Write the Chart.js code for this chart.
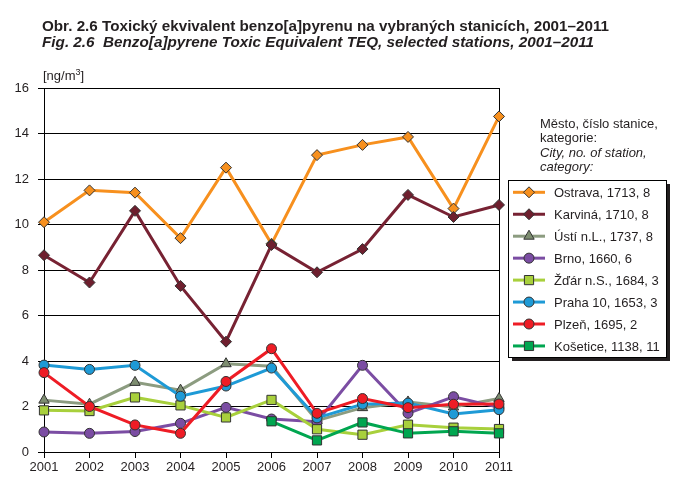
<!DOCTYPE html>
<html>
<head>
<meta charset="utf-8">
<script src="https://cdn.jsdelivr.net/npm/chart.js@4"></script>
<style>
  html, body { margin: 0; padding: 0; background: #fff; }
  #wrap { width: 677px; height: 500px; position: relative; }
</style>
</head>
<body>
<div id="wrap"><canvas id="c" width="677" height="500"></canvas></div>
<script>
// ---- data ----
const years = ["2001","2002","2003","2004","2005","2006","2007","2008","2009","2010","2011"];
const yTicks = [0, 2, 4, 6, 8, 10, 12, 14, 16];
const seriesNames = ["Ostrava, 1713, 8","Karviná, 1710, 8","Ústí n.L., 1737, 8","Brno, 1660, 6","Žďár n.S., 1684, 3","Praha 10, 1653, 3","Plzeň, 1695, 2","Košetice, 1138, 11"];
const ostrava  = [10.1, 11.5, 11.4, 9.4, 12.5, 9.15, 13.05, 13.5, 13.85, 10.7, 14.75];
const karvina  = [8.65, 7.45, 10.6, 7.3, 4.85, 9.1, 7.9, 8.92, 11.3, 10.33, 10.86];
const usti     = [2.28, 2.1, 3.06, 2.72, 3.88, 3.77, 1.38, 1.95, 2.2, 1.98, 2.35];
const brno     = [0.88, 0.82, 0.9, 1.26, 1.96, 1.45, 1.33, 3.81, 1.7, 2.43, 1.96];
const zdar     = [1.83, 1.8, 2.4, 2.05, 1.52, 2.29, 1.0, 0.76, 1.2, 1.07, 1.01];
const praha    = [3.82, 3.63, 3.81, 2.45, 2.9, 3.69, 1.5, 2.1, 2.15, 1.67, 1.86];
const plzen    = [3.49, 2.0, 1.19, 0.82, 3.1, 4.54, 1.7, 2.35, 1.95, 2.1, 2.11];
const kosetice = [null, null, null, null, null, 1.35, 0.51, 1.3, 0.82, 0.91, 0.82];

const titleLine1 = "Obr. 2.6 Toxický ekvivalent benzo[a]pyrenu na vybraných stanicích, 2001–2011";
const titleLine2 = "Fig. 2.6  Benzo[a]pyrene Toxic Equivalent TEQ, selected stations, 2001–2011";
const legendHeader = ["Město, číslo stanice,", "kategorie:", "City, no. of station,", "category:"];

// ---- styles ----
const styles = [
  { line: '#F7901E', fill: '#F7901E', shape: 'rectRot', r: 5.5 },
  { line: '#772233', fill: '#6E1F2E', shape: 'rectRot', r: 5.5 },
  { line: '#8C9C80', fill: '#7D8D70', shape: 'triangle', r: 6 },
  { line: '#7B4DA3', fill: '#7B4DA3', shape: 'circle', r: 5 },
  { line: '#A8D03C', fill: '#A8D03C', shape: 'rect', r: 6.5 },
  { line: '#1E9AD6', fill: '#1E9AD6', shape: 'circle', r: 5 },
  { line: '#EE1C25', fill: '#EE1C25', shape: 'circle', r: 5 },
  { line: '#00A650', fill: '#00A650', shape: 'rect', r: 6.5 }
];
const allData = [ostrava, karvina, usti, brno, zdar, praha, plzen, kosetice];

const FONT = "'Liberation Sans', Arial, sans-serif";

const datasets = allData.map((d, i) => ({
  label: seriesNames[i],
  data: d,
  borderColor: styles[i].line,
  backgroundColor: styles[i].fill,
  borderWidth: 3,
  pointStyle: styles[i].shape,
  pointRadius: styles[i].r,
  pointBackgroundColor: styles[i].fill,
  pointBorderColor: '#333',
  pointBorderWidth: 1,
  tension: 0,
  spanGaps: false,
  order: allData.length - 1 - i
}));

function fitText(ctx, text, x, y, width) {
  const w = ctx.measureText(text).width;
  ctx.save();
  ctx.translate(x, y);
  ctx.scale(width / w, 1);
  ctx.fillText(text, 0, 0);
  ctx.restore();
}

const decor = {
  id: 'decor',
  afterDraw(chart) {
    const ctx = chart.ctx;
    ctx.save();
    ctx.fillStyle = '#231F20';
    ctx.textBaseline = 'alphabetic';
    ctx.textAlign = 'left';
    // titles
    ctx.font = "bold 14px " + FONT;
    fitText(ctx, titleLine1, 42, 31, 567);
    ctx.font = "italic bold 14px " + FONT;
    fitText(ctx, titleLine2, 42, 47, 552);

    // unit label
    ctx.font = "13px " + FONT;
    let ux = 43, uy = 80;
    ctx.fillText("[ng/m", ux, uy);
    ux += ctx.measureText("[ng/m").width;
    ctx.font = "9px " + FONT;
    ctx.fillText("3", ux, uy - 5);
    ux += ctx.measureText("3").width;
    ctx.font = "13px " + FONT;
    ctx.fillText("]", ux, uy);

    // legend header
    const hy = [128, 142, 157, 171];
    legendHeader.forEach((t, i) => {
      ctx.font = (i >= 2 ? "italic " : "") + "13px " + FONT;
      ctx.fillText(t, 540, hy[i]);
    });

    // legend box with shadow
    const bx = 508, by = 180, bw = 158, bh = 177;
    ctx.fillStyle = '#231F20';
    ctx.fillRect(bx + 4, by + 4, bw, bh);
    ctx.fillStyle = '#fff';
    ctx.fillRect(bx, by, bw, bh);
    ctx.strokeStyle = '#000';
    ctx.lineWidth = 1;
    ctx.strokeRect(bx + 0.5, by + 0.5, bw, bh);

    // legend items
    chart.data.datasets.forEach((ds, i) => {
      const y = 192.3 + i * 21.95;
      ctx.strokeStyle = ds.borderColor;
      ctx.lineWidth = 3;
      ctx.beginPath();
      ctx.moveTo(513, y);
      ctx.lineTo(545, y);
      ctx.stroke();
      Chart.helpers.drawPoint(ctx, {
        pointStyle: ds.pointStyle,
        rotation: 0,
        borderWidth: 1
      }, 529, y);
      ctx.fillStyle = ds.pointBackgroundColor;
      ctx.strokeStyle = '#333';
      ctx.lineWidth = 1;
      // drawPoint uses ctx state; call with radius
      ctx.beginPath();
      Chart.helpers.drawPoint(ctx, { pointStyle: ds.pointStyle, radius: ds.pointRadius, rotation: 0, borderWidth: 1 }, 529, y);
      ctx.fillStyle = '#231F20';
      ctx.font = "13px " + FONT;
      ctx.textBaseline = 'middle';
      ctx.fillText(ds.label, 554, y + 1);
      ctx.textBaseline = 'alphabetic';
    });
    ctx.restore();
  }
};

new Chart(document.getElementById('c'), {
  type: 'line',
  data: { labels: years, datasets },
  options: {
    responsive: false,
    animation: false,
    events: [],
    layout: { padding: { left: 0, top: 88, right: 178, bottom: 18 } },
    plugins: {
      legend: { display: false },
      title: { display: false },
      tooltip: { enabled: false }
    },
    scales: {
      x: {
        type: 'category',
        offset: false,
        border: { display: true, color: '#000', width: 1 },
        grid: {
          display: true,
          drawOnChartArea: true,
          color: (c) => (c.index === years.length - 1 ? '#000' : 'rgba(0,0,0,0)'),
          tickColor: '#000',
          tickLength: 6,
          lineWidth: 1
        },
        ticks: {
          color: '#231F20',
          font: { family: FONT, size: 13 },
          padding: 2,
          maxRotation: 0,
          autoSkip: false
        },
        afterFit(scale) { scale.height = 30; }
      },
      y: {
        min: 0,
        max: 16,
        border: { display: true, color: '#000', width: 1 },
        grid: {
          color: '#000',
          tickColor: '#000',
          tickLength: 6,
          lineWidth: 1
        },
        afterBuildTicks(scale) { scale.ticks = yTicks.map(v => ({ value: v })); },
        ticks: {
          color: '#231F20',
          font: { family: FONT, size: 13 },
          padding: 9
        },
        afterFit(scale) { scale.width = 44; }
      }
    }
  },
  plugins: [decor]
});
</script>
</body>
</html>
